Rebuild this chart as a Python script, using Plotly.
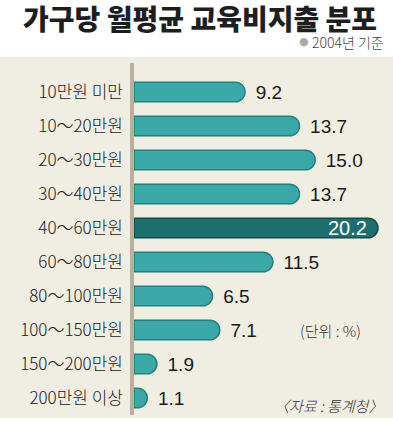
import plotly.graph_objects as go

categories = ["10만원 미만", "10～20만원", "20～30만원", "30～40만원", "40～60만원",
              "60～80만원", "80～100만원", "100～150만원", "150～200만원", "200만원 이상"]
values = [9.2, 13.7, 15.0, 13.7, 20.2, 11.5, 6.5, 7.1, 1.9, 1.1]
highlight = "40～60만원"

W, H = 393, 423
ML, MR, MT, MB = 134, 0, 75, 8
PW, PH = W - ML - MR, H - MT - MB

def px_x(p):
    return (p - ML) / PW

def px_y(p):
    return 1 - (p - MT) / PH

SP = "\u2009\u2009"
fill = ["#1d6f6d" if c == highlight else "#3aa8a7" for c in categories]
edge = ["#0f4c4b" if c == highlight else "#23807e" for c in categories]
labels = ["" if c == highlight else (SP + f"{v:.1f}") for c, v in zip(categories, values)]

fig = go.Figure()
fig.add_trace(go.Bar(
    y=categories, x=values, orientation="h",
    width=0.58,
    marker=dict(color=fill, line=dict(color=edge, width=1.5), cornerradius=10),
    text=labels, textposition="outside", textangle=0,
    constraintext="none",
    textfont=dict(family="Liberation Sans, Arial, sans-serif", size=19, color="#1a1a1a"),
    cliponaxis=False,
    hoverinfo="skip",
))

shapes = [
    dict(type="rect", xref="paper", yref="paper",
         x0=px_x(0), x1=px_x(W), y0=px_y(418), y1=px_y(57),
         fillcolor="#f0ede2", line=dict(width=0), layer="below"),
    dict(type="line", xref="paper", yref="paper",
         x0=px_x(132), x1=px_x(132), y0=px_y(415), y1=px_y(63),
         line=dict(color="#b9b09e", width=4), layer="below"),
]

annotations = [
    dict(text="가구당 월평균 교육비지출 분포", xref="paper", yref="paper",
         x=px_x(200), y=px_y(18), xanchor="center", yanchor="middle", showarrow=False,
         font=dict(family="Noto Sans CJK KR", size=28, color="#1e1e1e", weight=900)),
    dict(text="●", xref="paper", yref="paper",
         x=px_x(311), y=px_y(42), xanchor="right", yanchor="middle", showarrow=False,
         font=dict(family="DejaVu Sans", size=11, color="#aaaaaa")),
    dict(text="2004년 기준", xref="paper", yref="paper",
         x=px_x(386), y=px_y(42), xanchor="right", yanchor="middle", showarrow=False,
         font=dict(family="Noto Sans CJK KR", size=14, color="#444444", weight=300)),
    dict(text="(단위 : %)", xref="paper", yref="paper",
         x=px_x(330), y=px_y(330), xanchor="center", yanchor="middle", showarrow=False,
         font=dict(family="Noto Sans CJK KR", size=15, color="#333333", weight=300)),
    dict(text="<i>〈자료 : 통계청〉</i>", xref="paper", yref="paper",
         x=px_x(385), y=px_y(405), xanchor="right", yanchor="middle", showarrow=False,
         font=dict(family="Noto Sans CJK KR", size=15, color="#333333", weight=300)),
]

for c, v in zip(categories, values):
    if c == highlight:
        annotations.append(dict(
            text=f"{v:.1f}", x=v, y=c, xref="x", yref="y",
            xanchor="right", yanchor="middle", xshift=-9, showarrow=False,
            font=dict(family="Liberation Sans, Arial, sans-serif", size=20, color="white")))

fig.update_layout(
    width=W, height=H,
    margin=dict(l=ML, r=MR, t=MT, b=MB, autoexpand=False),
    paper_bgcolor="white", plot_bgcolor="rgba(0,0,0,0)",
    showlegend=False,
    shapes=shapes, annotations=annotations,
    xaxis=dict(range=[0, PW / 12.08], visible=False, fixedrange=True, automargin=False),
    yaxis=dict(autorange="reversed", showgrid=False, zeroline=False, showline=False,
               ticks="", ticklabelstandoff=10, automargin=False,
               tickfont=dict(family="Noto Sans CJK KR", size=17, color="#222222", weight=300),
               fixedrange=True),
    bargap=0.4,
)

fig.write_html("out.html", config={"displayModeBar": False},
               post_script="document.body.style.margin='0';document.body.style.padding='0';")
